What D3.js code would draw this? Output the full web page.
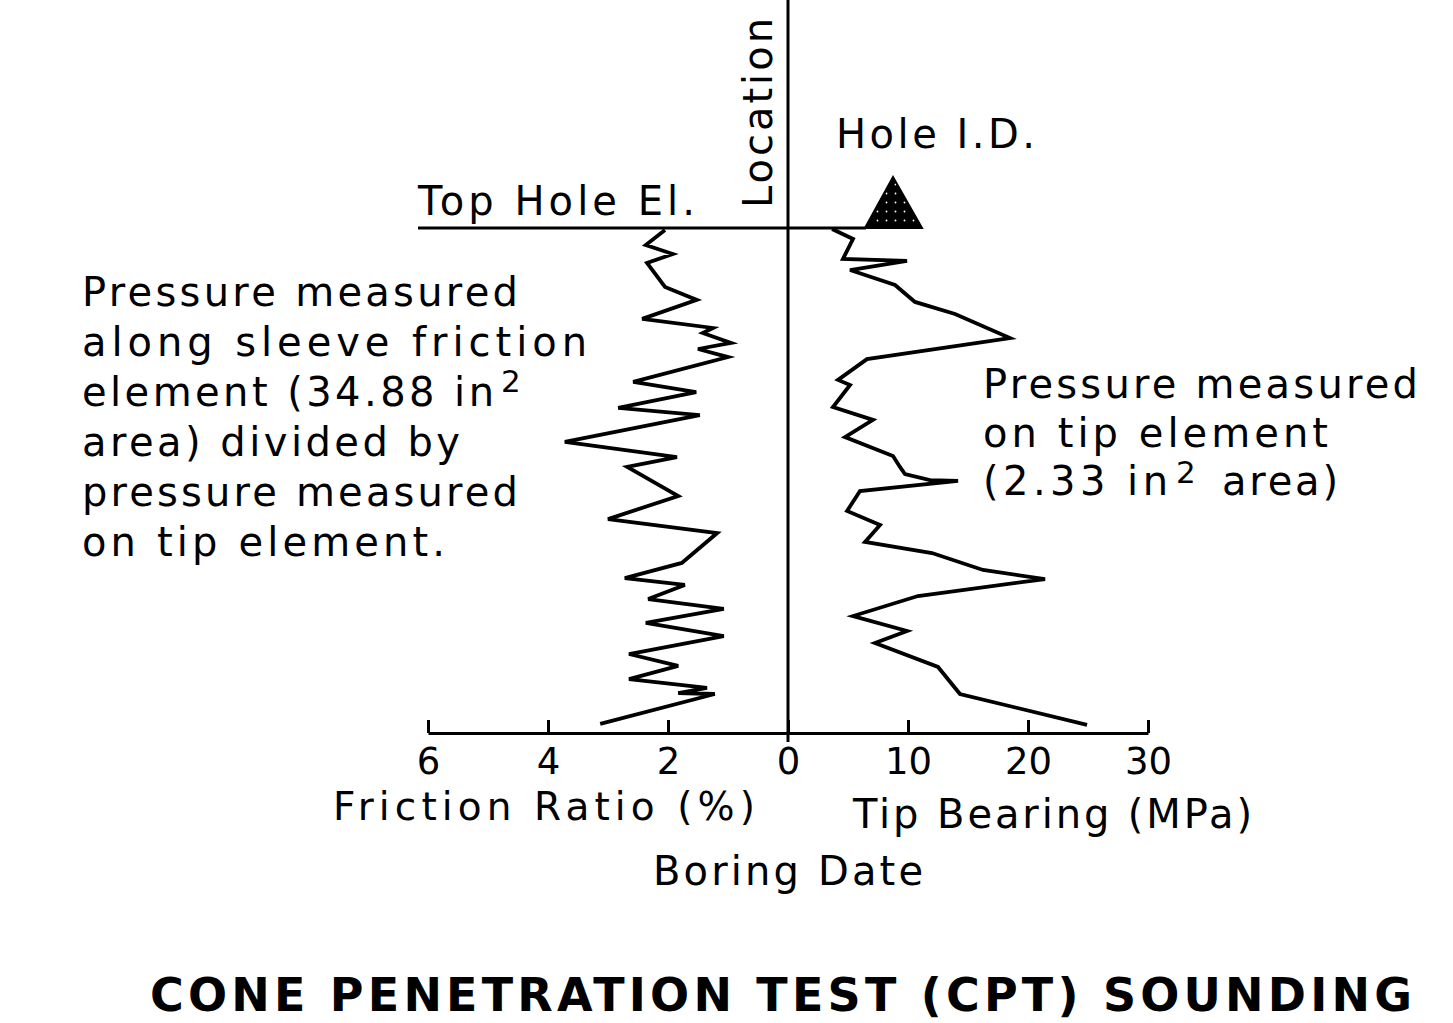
<!DOCTYPE html>
<html>
<head>
<meta charset="utf-8">
<script src="https://cdn.jsdelivr.net/npm/d3@7"></script>
<style>
  html, body { margin: 0; padding: 0; background: #fff; }
  svg { display: block; }
</style>
</head>
<body>
<svg id="chart" width="1453" height="1023"></svg>
<script>
// CPT sounding log: friction ratio (left) and tip bearing (right) versus depth (m)
const frictionDepth = [0.10, 0.84, 1.29, 1.73, 2.92, 3.56, 4.50, 4.95, 5.20, 5.69, 5.99, 6.39,
  7.62, 8.12, 8.91, 9.26, 10.59, 11.34, 11.83, 13.27, 14.41, 15.10, 16.58, 17.33, 17.67,
  18.37, 18.86, 19.55, 20.20, 21.09, 21.68, 22.33, 22.77, 23.02, 23.07, 24.55];
const frictionRatio = [2.05, 2.37, 1.92, 2.35, 2.05, 1.52, 2.43, 1.25, 1.42, 0.95, 1.50, 1.00,
  2.58, 1.53, 2.83, 1.47, 3.72, 1.85, 2.68, 1.83, 3.00, 1.18, 1.77, 2.72, 1.72,
  2.33, 1.07, 2.37, 1.07, 2.65, 1.83, 2.65, 1.35, 1.83, 1.22, 3.13];

const tipDepth = [0.05, 0.54, 1.53, 1.63, 2.08, 2.82, 3.66, 4.26, 5.45, 6.49, 7.52, 7.77,
  8.86, 9.50, 10.35, 11.29, 11.83, 12.18, 12.48, 12.52, 13.02, 14.01, 14.70, 15.54, 16.09,
  16.93, 17.38, 18.22, 19.21, 19.95, 20.54, 21.73, 23.07, 24.60];
const tipBearing = [3.67, 5.42, 4.58, 9.92, 5.17, 8.92, 10.58, 13.92, 18.5, 6.58, 4.17, 5.17,
  3.75, 7.08, 4.75, 8.75, 9.33, 9.75, 11.83, 14.17, 6.0, 4.92, 7.67, 6.42, 12.0,
  16.25, 21.42, 10.83, 5.42, 9.92, 7.25, 12.5, 14.33, 24.92];

const frictionTicks = [0, 2, 4, 6];
const tipTicks = [10, 20, 30];
const depthRange = [0, 25];

const leftNote = ["Pressure measured", "along sleeve friction", "element (34.88 in",
  "area) divided by", "pressure measured", "on tip element."];
const rightNote = ["Pressure measured", "on tip element", "(2.33 in"];

const FONT = "'DejaVu Sans', sans-serif";
const svg = d3.select("#chart");

// Scales
const yDepth = d3.scaleLinear().domain(depthRange).range([228, 733]);
const xFric = d3.scaleLinear().domain([0, 6]).range([788, 428]);
const xTip = d3.scaleLinear().domain([0, 30]).range([788, 1148]);
const axisY = yDepth(depthRange[1]);
const zeroX = xFric(0);

// Stipple pattern for the hole marker
const defs = svg.append("defs");
const pat = defs.append("pattern").attr("id", "stipple")
  .attr("patternUnits", "userSpaceOnUse").attr("width", 9).attr("height", 9);
pat.append("rect").attr("width", 9).attr("height", 9).attr("fill", "#000");
pat.append("circle").attr("cx", 4.5).attr("cy", 4.5).attr("r", 0.9).attr("fill", "#fff");

// Axes along the bottom (ticks point up)
const axFric = d3.axisBottom(xFric).tickValues(frictionTicks)
  .tickSizeInner(-13).tickSizeOuter(0).tickPadding(15).tickFormat(d3.format("d"));
const axTip = d3.axisBottom(xTip).tickValues(tipTicks)
  .tickSizeInner(-13).tickSizeOuter(0).tickPadding(15).tickFormat(d3.format("d"));

[axFric, axTip].forEach(ax => {
  const g = svg.append("g").attr("transform", `translate(0,${axisY})`).call(ax);
  g.select(".domain").attr("stroke", "#000").attr("stroke-width", 3);
  g.selectAll(".tick line").attr("stroke", "#000").attr("stroke-width", 3);
  g.selectAll(".tick text").style("font-family", FONT).attr("font-size", 37)
    .attr("fill", "#000").attr("dy", "0.71em");
});

// Centre (location) line and top-of-hole line
svg.append("line").attr("x1", zeroX).attr("x2", zeroX).attr("y1", 0).attr("y2", axisY + 9)
  .attr("stroke", "#000").attr("stroke-width", 3);
svg.append("line").attr("x1", 418).attr("x2", 866).attr("y1", yDepth(0)).attr("y2", yDepth(0))
  .attr("stroke", "#000").attr("stroke-width", 3);

// Hole marker
svg.append("path")
  .attr("d", `M893,177 L922,${yDepth(0)} L865,${yDepth(0)} Z`)
  .attr("fill", "url(#stipple)").attr("stroke", "#000").attr("stroke-width", 2);

// Profiles
const fricLine = d3.line().x(d => xFric(d[1])).y(d => yDepth(d[0]));
const tipLine = d3.line().x(d => xTip(d[1])).y(d => yDepth(d[0]));
svg.append("path").datum(d3.zip(frictionDepth, frictionRatio))
  .attr("d", fricLine).attr("fill", "none").attr("stroke", "#000")
  .attr("stroke-width", 3.8).attr("stroke-linejoin", "miter").attr("stroke-miterlimit", 4);
svg.append("path").datum(d3.zip(tipDepth, tipBearing))
  .attr("d", tipLine).attr("fill", "none").attr("stroke", "#000")
  .attr("stroke-width", 3.8).attr("stroke-linejoin", "miter").attr("stroke-miterlimit", 4);

// Text helper
function label(txt, x, y, len, size, opts = {}) {
  const t = svg.append("text").attr("x", x).attr("y", y)
    .attr("font-size", size).attr("fill", "#000")
    .style("font-family", opts.family || FONT).text(txt);
  if (len) t.attr("textLength", len).attr("lengthAdjust", "spacing");
  if (opts.weight) t.attr("font-weight", opts.weight);
  if (opts.transform) t.attr("transform", opts.transform);
  return t;
}

// Left note
const leftLens = [436, 505, 412, 378, 436, 363];
leftNote.forEach((s, i) => label(s, 82, 306 + i * 50, leftLens[i], 40));
label("2", 501, 392, null, 31);

// Right note
const rightLens = [435, 345, 185];
rightNote.forEach((s, i) => label(s, 983, 398 + i * 48.5, rightLens[i], 40));
label("2", 1176, 483, null, 31);
label("area)", 1222, 495, 116, 40);

// Header labels
label("Top Hole El.", 418, 215, 277, 40);
label("Hole I.D.", 836, 148, 199, 40);
label("Location", 0, 0, 190, 40, { transform: `translate(772,208) rotate(-90)` });

// Axis titles
label("Friction Ratio (%)", 333, 820, 422, 39);
label("Tip Bearing (MPa)", 853, 828, 399, 40);
label("Boring Date", 653, 885, 270, 40);

// Title
label("CONE PENETRATION TEST (CPT) SOUNDING", 150, 1011, 1262, 46, { weight: "bold" });
</script>
</body>
</html>
